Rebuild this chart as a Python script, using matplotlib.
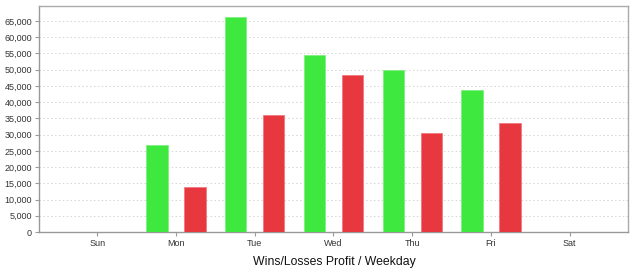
import matplotlib
matplotlib.use("Agg")
import matplotlib.pyplot as plt
from matplotlib.ticker import FuncFormatter, MultipleLocator
import numpy as np

plt.rcParams['font.family'] = ['Liberation Sans', 'DejaVu Sans']

days = ['Sun', 'Mon', 'Tue', 'Wed', 'Thu', 'Fri', 'Sat']
wins = [0, 26800, 66300, 54500, 49900, 43700, 0]
losses = [0, 14000, 36000, 48400, 30400, 33600, 0]

x = np.arange(len(days))
fig = plt.figure(figsize=(6.36, 2.76), dpi=100)
ax = fig.add_axes([39 / 636, 1 - 232 / 276, 589 / 636, 226 / 276])

w = 0.27
off = 0.24
ax.bar(x - off, wins, width=w, color='#3fe83f', edgecolor='#7ff07f', linewidth=0.6, zorder=3)
ax.bar(x + off, losses, width=w, color='#e8383f', edgecolor='#f07a7f', linewidth=0.6, zorder=3)

ax.set_xlim(-0.74, 6.74)
ax.set_ylim(0, 69600)
ax.set_xticks(x)
ax.set_xticklabels(days)
ax.yaxis.set_major_locator(MultipleLocator(5000))
ax.yaxis.set_major_formatter(FuncFormatter(lambda v, p: f'{int(v):,}'))
ax.tick_params(labelsize=6.5, colors='#333333', length=3, width=0.8, pad=2)
ax.tick_params(axis='both', color='#999999')
ax.grid(axis='y', linestyle=(0, (1.5, 2.5)), color='#d4d4d4', linewidth=0.7, zorder=0)
for s in ax.spines.values():
    s.set_color('#aaaaaa')
    s.set_linewidth(1)
ax.spines['left'].set_color('#999999')
ax.spines['bottom'].set_color('#999999')

fig.text(334 / 636, 1 - 262 / 276, 'Wins/Losses Profit / Weekday',
         ha='center', va='center', fontsize=8.8, color='#111111')

fig.savefig('out.png', dpi=100)
